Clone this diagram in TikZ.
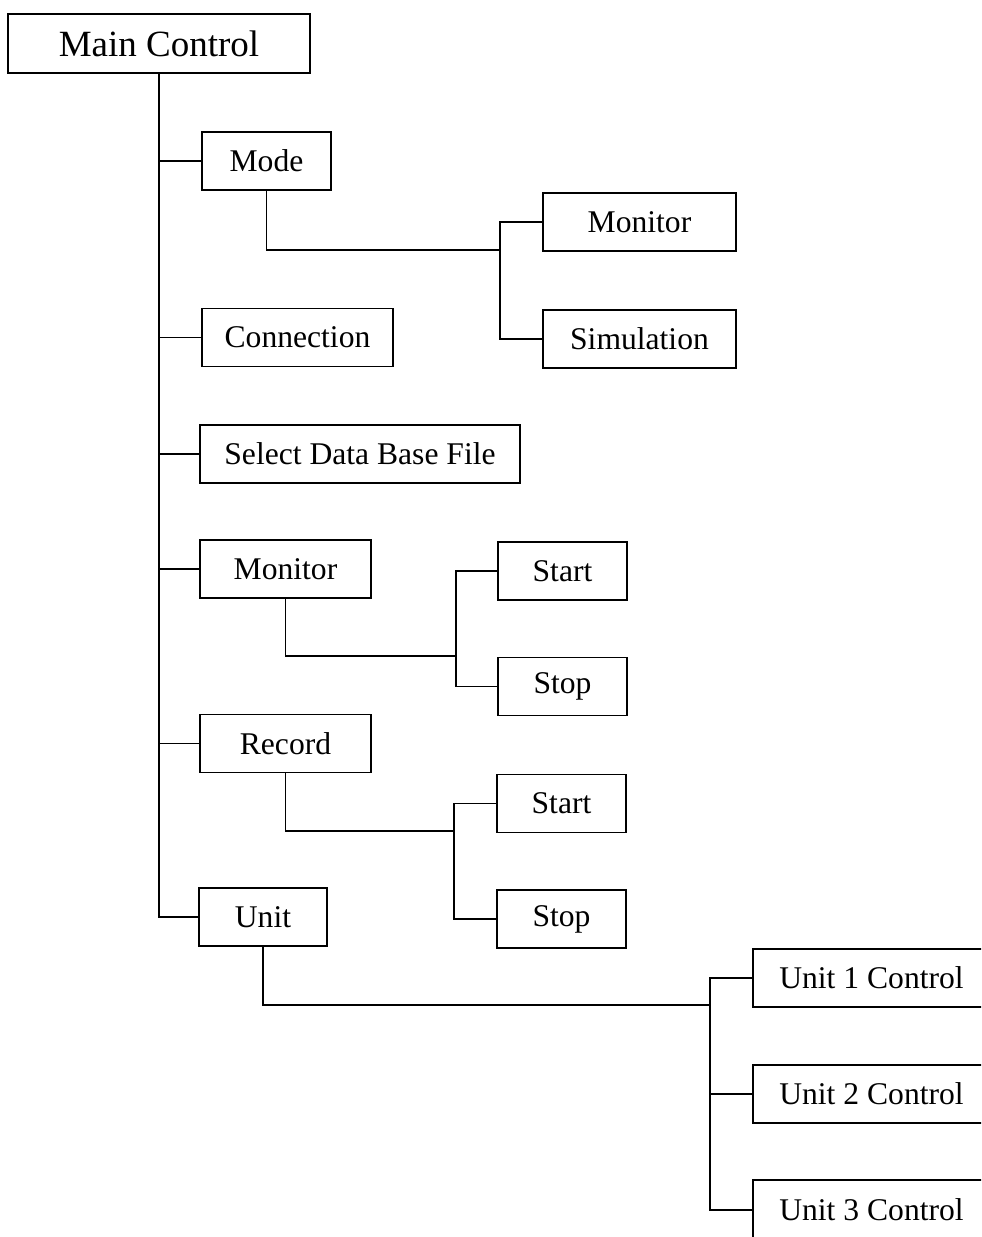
\documentclass[tikz,border=0pt]{standalone}
\usepackage{fontspec}
\setmainfont{Liberation Serif}
\begin{document}
\begin{tikzpicture}[x=0.5pt,y=-0.5pt,
  box/.style={draw=black,line width=0.9pt,inner sep=0pt,minimum width=#1,minimum height=29pt,
    font=\fontsize{15.8pt}{18pt}\selectfont},
  box/.default=64.5pt,
  link/.style={line width=0.9pt,black}]
\useasboundingbox (0,0) rectangle (981,1237);
\clip (0,0) rectangle (981,1237);

% root
\node[draw=black,line width=0.9pt,inner sep=0pt,minimum width=151pt,minimum height=29.5pt,
  font=\fontsize{18.5pt}{22pt}\selectfont] (main) at (159,43.5) {Main Control};

% first level
\node[box=64.5pt]  (mode) at (266.5,161)   {Mode};
\node[box=95.5pt]  (conn) at (297.5,337.5) {Connection};
\node[box=160pt]   (sel)  at (360,454)     {Select Data Base File};
\node[box=85.5pt]  (mon)  at (285.5,569)   {Monitor};
\node[box=85.5pt]  (rec)  at (285.5,743.5) {Record};
\node[box=64pt]    (unit) at (263,917)     {Unit};

% mode options
\node[box=96.5pt] (mmon) at (639.5,222) {Monitor};
\node[box=96.5pt] (msim) at (639.5,339) {Simulation};

% monitor / record actions
\node[box=64.5pt] (st1) at (562.5,571)   {Start};
\node[box=64.5pt] (sp1) at (562.5,686.5) {Stop};
\node[box=64.5pt] (st2) at (561.5,803.5) {Start};
\node[box=64.5pt] (sp2) at (561.5,919)   {Stop};

% unit controls
\node[box=118.5pt] (u1) at (871.5,978)  {Unit 1 Control};
\node[box=118.5pt] (u2) at (871.5,1094) {Unit 2 Control};
\node[box=118.5pt,minimum height=30pt] (u3) at (871.5,1210) {Unit 3 Control};

% junction points
\coordinate (j1) at (500,250);
\coordinate (j2) at (456,656);
\coordinate (j3) at (454,831);
\coordinate (j4) at (710,1005);

% trunk and first-level branches
\draw[link] (main.south) |- (unit.west);
\foreach \n in {mode,conn,sel,mon,rec}
  \draw[link] (main.south |- \n.west) -- (\n.west);

% sub-branches
\draw[link] (mode.south) |- (j1);
\draw[link] (mmon.west) -| (j1) |- (msim.west);

\draw[link] (mon.south) |- (j2);
\draw[link] (st1.west) -| (j2) |- (sp1.west);

\draw[link] (rec.south) |- (j3);
\draw[link] (st2.west) -| (j3) |- (sp2.west);

\draw[link] (unit.south) |- (j4);
\draw[link] (u1.west) -| (j4) |- (u3.west);
\draw[link] (j4 |- u2.west) -- (u2.west);
\end{tikzpicture}
\end{document}
